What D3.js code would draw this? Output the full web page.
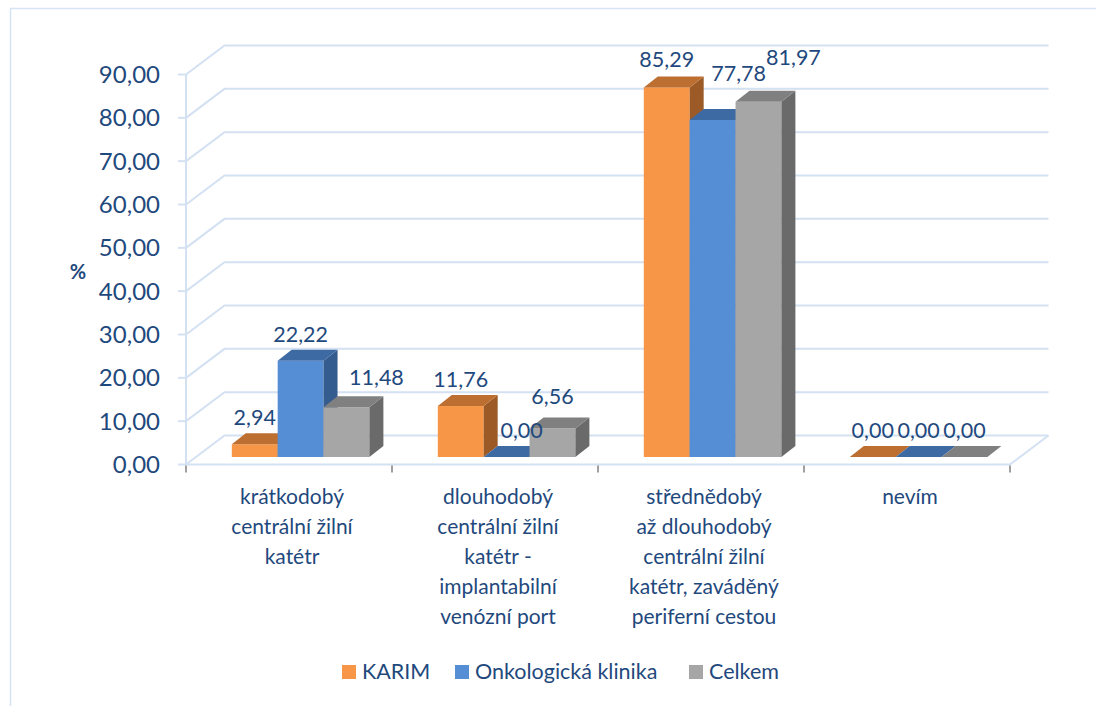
<!DOCTYPE html>
<html><head><meta charset="utf-8">
<script src="https://cdn.jsdelivr.net/npm/d3@7"></script>
<style>
html,body{margin:0;padding:0;background:#fff;}
svg{display:block;}
text{font-family:Lato,"Open Sans",sans-serif;fill:#1F497D;}
</style></head>
<body>
<svg id="c" width="1096" height="706"></svg>
<script>
const categories = [
  ["krátkodobý","centrální žilní","katétr"],
  ["dlouhodobý","centrální žilní","katétr -","implantabilní","venózní port"],
  ["střednědobý","až dlouhodobý","centrální žilní","katétr, zaváděný","periferní cestou"],
  ["nevím"]
];
const series = ["KARIM","Onkologická klinika","Celkem"];
const karim = [2.94, 11.76, 85.29, 0.00];
const onko  = [22.22, 0.00, 77.78, 0.00];
const celkem = [11.48, 6.56, 81.97, 0.00];
const yTicks = [0,10,20,30,40,50,60,70,80,90];
// manual label nudges (dx, dy) per category per series, as placed in the original
const labelNudge = [
  [[0,0],[0,0],[30,-3]],
  [[0,0],[15,0],[0,-6]],
  [[0,-1],[26,-20],[35,-18]],
  [[0,0],[0,0],[0,0]]
];

const values = [karim, onko, celkem];
const colors = [
  {front:"#F79646", top:"#BD6F31", side:"#9C5A26"},
  {front:"#558ED5", top:"#3E6AA3", side:"#355C8F"},
  {front:"#A6A6A6", top:"#808080", side:"#6A6A6A"}
];
const grid = "#D3E1F2";
const svg = d3.select("#c");

// outer border
svg.append("rect").attr("x",10.5).attr("y",8.5).attr("width",1200).attr("height",800)
  .attr("fill","#fff").attr("stroke","#D5E3F3").attr("stroke-width",1.5);

const left = 186, right = 1010;
const depthX = 38.5, depthY = -29;     // wall depth
const barOffX = 9.8, barOffY = -7.5;   // bar front plane offset
const barDX = 14, barDY = -11;         // bar depth

const x0 = d3.scaleBand().domain(d3.range(categories.length)).range([left,right]);
const x1 = d3.scaleBand().domain(d3.range(series.length)).range([36, 173.6]);
const y = d3.scaleLinear().domain([0,90]).range([464.5, 74.5]);

const fmt = v => d3.format(".2f")(v).replace(".", ",");

// gridlines on back wall + left side wall
const g = svg.append("g");
yTicks.forEach(t => {
  const yy = y(t);
  g.append("path")
    .attr("d", `M${left},${yy} L${left+depthX},${yy+depthY} L${right+depthX},${yy+depthY}`)
    .attr("fill","none").attr("stroke",grid).attr("stroke-width",2);
  g.append("line").attr("x1",left-8).attr("x2",left).attr("y1",yy).attr("y2",yy)
    .attr("stroke",grid).attr("stroke-width",2);
});
// floor
g.append("path")
  .attr("d", `M${left},${y(0)} L${right},${y(0)} L${right+depthX},${y(0)+depthY}`)
  .attr("fill","none").attr("stroke",grid).attr("stroke-width",2);
// vertical axis
g.append("line").attr("x1",left).attr("x2",left).attr("y1",y(90)).attr("y2",y(0))
  .attr("stroke",grid).attr("stroke-width",2);
// category ticks
x0.domain().concat([categories.length]).forEach(i => {
  const xx = i < categories.length ? x0(i) : right;
  g.append("line").attr("x1",xx).attr("x2",xx).attr("y1",y(0)+1).attr("y2",y(0)+8)
    .attr("stroke","#808080").attr("stroke-width",1.5);
});

// y tick labels
svg.append("g").selectAll("text").data(yTicks).join("text")
  .attr("x",160).attr("y",d => y(d)).attr("dy","0.36em")
  .attr("text-anchor","end").style("font-size","24px").text(fmt);

svg.append("text").attr("x",78).attr("y",272).attr("dy","0.36em")
  .attr("text-anchor","middle").style("font-size","20px").style("font-weight","bold").text("%");

// bars
const bars = svg.append("g");
categories.forEach((c, ci) => {
  series.forEach((s, si) => {
    const v = values[si][ci];
    const xl = x0(ci) + x1(si) + barOffX;
    const w = x1.bandwidth();
    const yb = y(0) + barOffY;
    const yt = y(v) + barOffY;
    const col = colors[si];
    if (v > 0) {
      bars.append("rect").attr("x",xl).attr("y",yt).attr("width",w).attr("height",yb-yt)
        .attr("fill",col.front);
      bars.append("path").attr("fill",col.side)
        .attr("d",`M${xl+w},${yt} L${xl+w+barDX},${yt+barDY} L${xl+w+barDX},${yb+barDY} L${xl+w},${yb} Z`);
    }
    bars.append("path").attr("fill",col.top)
      .attr("d",`M${xl},${yt} L${xl+barDX},${yt+barDY} L${xl+w+barDX},${yt+barDY} L${xl+w},${yt} Z`);
  });
});

// value labels
const lab = svg.append("g");
categories.forEach((c, ci) => {
  series.forEach((s, si) => {
    const v = values[si][ci];
    const xc = x0(ci) + x1(si) + barOffX + x1.bandwidth()/2 + labelNudge[ci][si][0];
    const yy = y(v) + barOffY + barDY - 8 + labelNudge[ci][si][1];
    lab.append("text").attr("x",xc).attr("y",yy).attr("text-anchor","middle")
      .style("font-size","21.5px").text(fmt(v));
  });
});

// category labels
const cl = svg.append("g");
categories.forEach((lines, ci) => {
  const t = cl.append("text").attr("text-anchor","middle").style("font-size","21px");
  lines.forEach((ln, li) => {
    t.append("tspan").attr("x", x0(ci) + x0.bandwidth()/2 + 3).attr("y", 504 + li*30).text(ln);
  });
});

// legend
const legX = [342, 455, 689];
const leg = svg.append("g");
series.forEach((s, si) => {
  leg.append("rect").attr("x",legX[si]).attr("y",665).attr("width",14).attr("height",14)
    .attr("fill",colors[si].front);
  leg.append("text").attr("x",legX[si]+20).attr("y",679).style("font-size","21.5px").text(s);
});
</script>
</body></html>
